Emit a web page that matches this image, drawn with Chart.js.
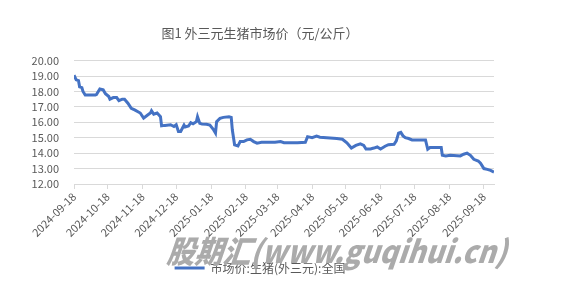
<!DOCTYPE html>
<html>
<head>
<meta charset="utf-8">
<script src="https://cdn.jsdelivr.net/npm/chart.js@4.4.1/dist/chart.umd.min.js"></script>
<style>
  body { margin: 0; background: #fff; }
  .box { width: 563px; height: 284px; }
</style>
</head>
<body>
<div class="box"><canvas id="myCourbe" width="563" height="284"></canvas></div>
<script>
const dates = [
  '2024-09-18','2024-09-20','2024-09-22','2024-09-23','2024-09-25','2024-09-26','2024-09-28',
  '2024-10-07','2024-10-08','2024-10-11','2024-10-14','2024-10-16','2024-10-19','2024-10-20',
  '2024-10-23','2024-10-26','2024-10-28','2024-10-31','2024-11-02','2024-11-05','2024-11-08',
  '2024-11-11','2024-11-16','2024-11-19','2024-11-22','2024-11-25','2024-11-26','2024-11-28',
  '2024-12-01','2024-12-04','2024-12-05','2024-12-08','2024-12-13','2024-12-16','2024-12-18',
  '2024-12-20','2024-12-22','2024-12-25','2024-12-26','2024-12-29','2024-12-31','2025-01-02',
  '2025-01-05','2025-01-06','2025-01-08','2025-01-10','2025-01-14','2025-01-17','2025-01-20',
  '2025-01-22','2025-01-23','2025-01-26','2025-01-29','2025-02-03','2025-02-05','2025-02-06',
  '2025-02-08','2025-02-11','2025-02-13','2025-02-16','2025-02-19','2025-02-22','2025-02-25',
  '2025-02-28','2025-03-04','2025-03-16','2025-03-21','2025-03-24','2025-03-27','2025-04-05',
  '2025-04-12','2025-04-14','2025-04-18','2025-04-22','2025-04-25','2025-05-01','2025-05-10',
  '2025-05-15','2025-05-19','2025-05-23','2025-05-27','2025-05-31','2025-06-03','2025-06-05',
  '2025-06-09','2025-06-12','2025-06-15','2025-06-18','2025-06-22','2025-06-25','2025-06-30',
  '2025-07-02','2025-07-04','2025-07-06','2025-07-08','2025-07-10','2025-07-13','2025-07-16',
  '2025-07-28','2025-07-30','2025-08-01','2025-08-11','2025-08-12','2025-08-15','2025-08-19',
  '2025-08-28','2025-08-31','2025-09-03','2025-09-06','2025-09-09','2025-09-13','2025-09-15',
  '2025-09-18','2025-09-21','2025-09-24','2025-09-27'
];

const prices = [
  19.05,18.75,18.70,18.30,18.25,18.00,17.77,
  17.77,17.80,18.16,18.10,17.85,17.67,17.50,
  17.60,17.60,17.40,17.50,17.50,17.24,16.90,
  16.80,16.60,16.27,16.44,16.60,16.75,16.53,
  16.60,16.37,15.77,15.80,15.84,15.73,15.84,
  15.40,15.40,15.82,15.70,15.76,15.97,15.90,
  16.04,16.36,15.93,15.89,15.87,15.82,15.55,
  15.30,16.04,16.25,16.32,16.36,16.32,15.50,
  14.54,14.47,14.75,14.75,14.86,14.90,14.75,
  14.65,14.70,14.70,14.75,14.68,14.67,14.67,
  14.70,15.07,15.00,15.10,15.03,15.00,14.95,
  14.90,14.67,14.33,14.50,14.60,14.50,14.27,
  14.27,14.33,14.40,14.27,14.45,14.55,14.58,
  14.80,15.30,15.35,15.12,15.00,14.95,14.86,
  14.86,14.25,14.36,14.36,13.86,13.82,13.86,
  13.82,13.93,14.00,13.86,13.60,13.49,13.35,
  13.00,12.95,12.88,12.77
];

const monthTicks = [
  '2024-09-18','2024-10-18','2024-11-18','2024-12-18','2025-01-18','2025-02-18','2025-03-18',
  '2025-04-18','2025-05-18','2025-06-18','2025-07-18','2025-08-18','2025-09-18'
];

const yTicks = [12, 13, 14, 15, 16, 17, 18, 19, 20];

const seriesName = '市场价:生猪(外三元):全国';
const titleText = '图1 外三元生猪市场价（元/公斤）';
const watermark = '股期汇(www.guqihui.cn)';

const blue = '#4472C4';
const grey = '#595959';
const gridColor = '#d9d9d9';
const font = '"Noto Sans CJK SC", "Noto Sans", sans-serif';

// jours depuis le premier point
function dayOf(s) {
  const p = s.split('-');
  return (Date.UTC(+p[0], p[1] - 1, +p[2]) - Date.UTC(2024, 8, 18)) / 86400000;
}

const points = dates.map((d, i) => ({ x: dayOf(d), y: prices[i] }));
const tickDays = monthTicks.map(dayOf);

const watermarkPlugin = {
  id: 'watermark',
  afterDraw(chart) {
    const ctx = chart.ctx;
    ctx.save();
    ctx.font = 'italic 900 31px ' + font;
    const w = ctx.measureText(watermark).width;
    ctx.translate(166, 263);
    ctx.transform(1, 0, -0.12, 1, 0, 0);
    ctx.scale(340 / w, 1);
    ctx.fillStyle = '#ababab';
    ctx.textBaseline = 'alphabetic';
    ctx.fillText(watermark, 0, 0);
    ctx.restore();
  }
};

const courbe = document.getElementById('myCourbe');

new Chart(courbe, {
  type: 'line',
  data: {
    datasets: [
      {
        label: seriesName,
        data: points,
        borderColor: blue,
        backgroundColor: blue,
        borderWidth: 3,
        pointRadius: 0,
        tension: 0,
      }
    ]
  },
  options: {
    responsive: false,
    animation: false,
    layout: {
      padding: { left: 26, right: 69, top: 0, bottom: 0 }
    },
    plugins: {
      title: {
        display: true,
        text: titleText,
        color: grey,
        font: { family: font, size: 13, weight: 'normal' },
        padding: { top: 25, bottom: 20 }
      },
      legend: {
        position: 'bottom',
        labels: {
          color: grey,
          font: { family: font, size: 12 },
          boxWidth: 30,
          boxHeight: 3,
          padding: 8,
          generateLabels: function(chart) {
            return Chart.defaults.plugins.legend.labels.generateLabels(chart).map(function(l) {
              l.lineWidth = 0;
              l.fillStyle = blue;
              return l;
            });
          }
        }
      },
      tooltip: { enabled: false }
    },
    scales: {
      x: {
        type: 'linear',
        min: 0,
        max: dayOf(dates[dates.length - 1]),
        afterBuildTicks: function(scale) {
          scale.ticks = tickDays.map(v => ({ value: v }));
        },
        afterFit: function(scale) {
          scale.height = 70;
        },
        grid: {
          drawOnChartArea: false,
          drawTicks: true,
          tickLength: 5,
          color: gridColor
        },
        border: { color: gridColor },
        ticks: {
          autoSkip: false,
          maxRotation: 45,
          minRotation: 45,
          padding: 1,
          color: grey,
          font: { family: font, size: 11 },
          callback: function(value) {
            const i = tickDays.indexOf(value);
            return i >= 0 ? monthTicks[i] : '';
          }
        }
      },
      y: {
        min: yTicks[0],
        max: yTicks[yTicks.length - 1],
        afterBuildTicks: function(scale) {
          scale.ticks = yTicks.map(v => ({ value: v }));
        },
        afterFit: function(scale) {
          scale.width = 48;
        },
        grid: {
          color: gridColor,
          drawTicks: false
        },
        border: { display: false },
        ticks: {
          autoSkip: false,
          padding: 15,
          color: grey,
          font: { family: font, size: 11 },
          callback: function(value) {
            return value.toFixed(2);
          }
        }
      }
    }
  },
  plugins: [watermarkPlugin]
});
</script>
</body>
</html>
